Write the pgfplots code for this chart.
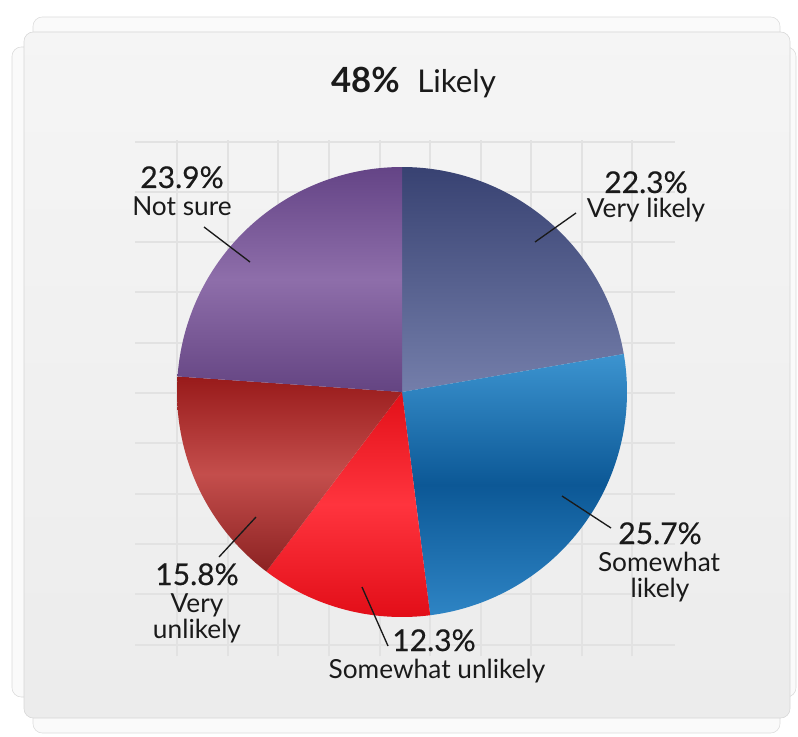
\documentclass[border=0pt]{standalone}
\usepackage{pgfplots}
\pgfplotsset{compat=1.18}
\usepackage{fontspec}
\setmainfont{Lato}
\newfontfamily\semi{Lato}[FakeBold=0.4]
\definecolor{txt}{HTML}{1A1A1A}
\definecolor{gridc}{HTML}{E2E2E2}
\begin{document}
\begin{tikzpicture}
% slice percentages (clockwise from 12 o'clock)
\pgfmathsetmacro\pA{22.3}% Very likely
\pgfmathsetmacro\pB{25.7}% Somewhat likely
\pgfmathsetmacro\pC{12.3}% Somewhat unlikely
\pgfmathsetmacro\pD{15.8}% Very unlikely
\pgfmathsetmacro\pE{23.9}% Not sure
\pgfmathsetmacro\aA{90}
\pgfmathsetmacro\aB{\aA-3.6*\pA}
\pgfmathsetmacro\aC{\aB-3.6*\pB}
\pgfmathsetmacro\aD{\aC-3.6*\pC}
\pgfmathsetmacro\aE{\aD-3.6*\pD}
\pgfmathsetmacro\aF{\aE-3.6*\pE}
\begin{axis}[at={(0,0)}, anchor=south west, scale only axis,
  width=598.5pt, height=552pt, xmin=0, xmax=798, ymin=0, ymax=736,
  axis lines=none, ticks=none, clip=false]
\path (0,0) rectangle (798,736);
% background cards
\draw[draw=black!15, fill=black!2, rounded corners=7pt] (12,39) rectangle (796,689);
\draw[draw=black!14, fill=black!2, rounded corners=7pt] (33,3) rectangle (780,719);
\draw[draw=black!16, top color=black!4, bottom color=black!7.5, rounded corners=7pt] (24,18) rectangle (790,704);
% faint grid
\pgfplotsinvokeforeach{177,228,278,329,380,430,481,531,582,632}{
  \draw[gridc, line width=1.2pt] (#1,80) -- (#1,596);}
\pgfplotsinvokeforeach{142,192,242,292,343,393,443,494,544,594,645}{
  \draw[gridc, line width=1.2pt] (135,736-#1) -- (675,736-#1);}
% pie slices
\addplot[draw=none, top color={rgb,255:red,56;green,66;blue,114}, bottom color={rgb,255:red,116;green,126;blue,170}, domain=\aB:\aA, samples=80]
  ({402+225*cos(x)},{344+225*sin(x)}) -- (402,344) -- cycle;
\addplot[draw=none, top color={rgb,255:red,60;green,148;blue,208}, bottom color={rgb,255:red,46;green,132;blue,196}, middle color={rgb,255:red,12;green,88;blue,150}, domain=\aC:\aB, samples=80]
  ({402+225*cos(x)},{344+225*sin(x)}) -- (402,344) -- cycle;
\addplot[draw=none, top color={rgb,255:red,226;green,16;blue,24}, bottom color={rgb,255:red,226;green,14;blue,24}, middle color={rgb,255:red,255;green,52;blue,62}, domain=\aD:\aC, samples=60]
  ({402+225*cos(x)},{344+225*sin(x)}) -- (402,344) -- cycle;
\addplot[draw=none, top color={rgb,255:red,152;green,26;blue,26}, bottom color={rgb,255:red,140;green,34;blue,34}, middle color={rgb,255:red,196;green,78;blue,76}, domain=\aE:\aD, samples=60]
  ({402+225*cos(x)},{344+225*sin(x)}) -- (402,344) -- cycle;
\addplot[draw=none, top color={rgb,255:red,100;green,68;blue,134}, bottom color={rgb,255:red,100;green,68;blue,130}, middle color={rgb,255:red,142;green,110;blue,170}, domain=\aF:\aE, samples=80]
  ({402+225*cos(x)},{344+225*sin(x)}) -- (402,344) -- cycle;
% leader lines
\draw[txt, line width=1pt] (535,736-242) -- (576,736-213);
\draw[txt, line width=1pt] (204,736-227) -- (250,736-262);
\draw[txt, line width=1pt] (562,736-496) -- (611,736-528);
\draw[txt, line width=1pt] (362,736-587) -- (388,736-646);
\draw[txt, line width=1pt] (219,736-557) -- (256,736-517);
% title
\node[anchor=base east, txt, font=\fontsize{26}{31}\selectfont\bfseries, inner sep=0pt] at (400,736-93) {48\%};
\node[anchor=base west, txt, font=\fontsize{23.5}{28}\selectfont, inner sep=0pt] at (417,736-93) {Likely};
% labels
\node[anchor=base, txt, font=\fontsize{22.5}{27}\selectfont\semi] at (646,736-193) {22.3\%};
\node[anchor=base, txt, font=\fontsize{19.7}{23}\selectfont] at (646,736-218) {Very likely};
\node[anchor=base, txt, font=\fontsize{22.5}{27}\selectfont\semi] at (660,736-544) {25.7\%};
\node[anchor=base, txt, font=\fontsize{19.7}{23}\selectfont] at (659,736-571) {Somewhat};
\node[anchor=base, txt, font=\fontsize{19.7}{23}\selectfont] at (660,736-597) {likely};
\node[anchor=base, txt, font=\fontsize{22.5}{27}\selectfont\semi] at (434,736-651) {12.3\%};
\node[anchor=base, txt, font=\fontsize{19.7}{23}\selectfont] at (437,736-678) {Somewhat unlikely};
\node[anchor=base, txt, font=\fontsize{22.5}{27}\selectfont\semi] at (197,736-585) {15.8\%};
\node[anchor=base, txt, font=\fontsize{19.7}{23}\selectfont] at (197,736-612) {Very};
\node[anchor=base, txt, font=\fontsize{19.7}{23}\selectfont] at (197,736-638) {unlikely};
\node[anchor=base, txt, font=\fontsize{22.5}{27}\selectfont\semi] at (182,736-188) {23.9\%};
\node[anchor=base, txt, font=\fontsize{19.7}{23}\selectfont] at (182,736-216) {Not sure};
\end{axis}
\end{tikzpicture}
\end{document}
